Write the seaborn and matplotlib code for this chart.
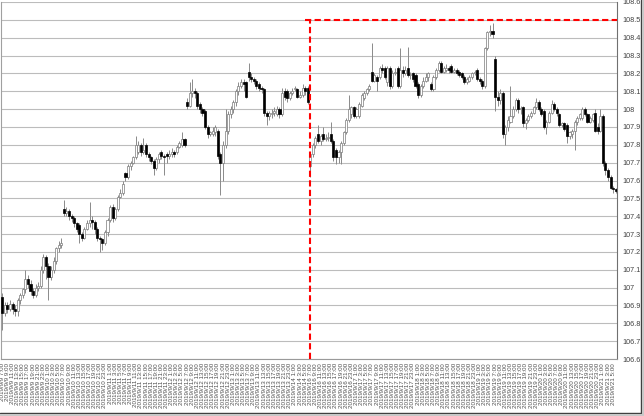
import numpy as np
import pandas as pd
import matplotlib
matplotlib.use("Agg")
import matplotlib.pyplot as plt
import seaborn as sns
from matplotlib.lines import Line2D

# hourly bars, two weeks split by the weekend
times = list(pd.date_range("2019-09-09 07:00", periods=120, freq="h")) + \
        list(pd.date_range("2019-09-16 07:00", periods=120, freq="h"))
time_labels = [f"{t.year}/{t.month}/{t.day} {t.hour}:00" for t in times]

opens = [
    106.95, 106.86, 106.90, 106.88, 106.91, 106.88, 106.87, 106.93, 106.96, 106.99,
    107.05, 107.02, 106.98, 106.96, 107.00, 107.01, 107.10, 107.17, 107.12, 107.06,
    107.10, 107.15, 107.22, 107.24, 107.44, 107.42, 107.43, 107.40, 107.39, 107.36,
    107.35, 107.30, 107.28, 107.33, 107.36, 107.38, 107.37, 107.33, 107.28, 107.27,
    107.25, 107.31, 107.38, 107.45, 107.39, 107.44, 107.51, 107.53, 107.64, 107.62,
    107.68, 107.70, 107.73, 107.76, 107.80, 107.76, 107.80, 107.75, 107.73, 107.71,
    107.67, 107.72, 107.76, 107.74, 107.75, 107.74, 107.75, 107.76, 107.76, 107.79,
    107.80, 107.83, 108.04, 108.02, 108.09, 108.10, 108.09, 108.03, 108.00, 107.99,
    107.90, 107.86, 107.86, 107.87, 107.88, 107.75, 107.70, 107.80, 107.88, 107.97,
    108.00, 108.04, 108.10, 108.13, 108.15, 108.15, 108.21, 108.18, 108.17, 108.16,
    108.14, 108.12, 108.11, 107.98, 107.96, 107.97, 107.98, 107.97, 108.00, 107.97,
    108.10, 108.10, 108.06, 108.09, 108.11, 108.11, 108.07, 108.08, 108.12, 108.12,
    107.68, 107.75, 107.80, 107.86, 107.82, 107.86, 107.83, 107.84, 107.86, 107.82,
    107.77, 107.73, 107.76, 107.81, 107.87, 107.94, 107.97, 108.01, 107.96, 107.96,
    108.02, 108.06, 108.09, 108.11, 108.21, 108.16, 108.18, 108.18, 108.23, 108.23,
    108.15, 108.23, 108.13, 108.20, 108.23, 108.13, 108.22, 108.20, 108.23, 108.19,
    108.20, 108.19, 108.14, 108.08, 108.13, 108.16, 108.18, 108.14, 108.11, 108.18,
    108.22, 108.26, 108.21, 108.22, 108.23, 108.24, 108.21, 108.22, 108.21, 108.20,
    108.18, 108.15, 108.16, 108.18, 108.20, 108.22, 108.17, 108.16, 108.13, 108.34,
    108.43, 108.44, 108.28, 108.07, 108.05, 108.09, 107.86, 107.90, 107.93, 107.96,
    108.00, 108.05, 108.00, 108.01, 107.92, 107.94, 107.96, 107.98, 108.01, 108.04,
    108.00, 107.99, 107.90, 107.93, 107.98, 108.03, 108.00, 107.97, 107.91, 107.92,
    107.91, 107.85, 107.86, 107.88, 107.93, 107.95, 107.95, 108.00, 107.97, 107.93,
    107.94, 107.98, 107.90, 107.88, 107.96, 107.70, 107.66, 107.62, 107.56, 107.55,
]
closes = [
    106.86, 106.90, 106.88, 106.91, 106.88, 106.87, 106.93, 106.96, 106.99, 107.05,
    107.02, 106.98, 106.96, 107.00, 107.01, 107.10, 107.17, 107.12, 107.06, 107.10,
    107.15, 107.22, 107.24, 107.25, 107.42, 107.43, 107.40, 107.39, 107.36, 107.33,
    107.30, 107.28, 107.33, 107.36, 107.38, 107.37, 107.33, 107.28, 107.27, 107.25,
    107.31, 107.38, 107.45, 107.39, 107.44, 107.51, 107.53, 107.58, 107.62, 107.68,
    107.70, 107.73, 107.80, 107.80, 107.76, 107.77, 107.75, 107.73, 107.71, 107.67,
    107.72, 107.75, 107.74, 107.73, 107.74, 107.75, 107.76, 107.75, 107.79, 107.81,
    107.83, 107.80, 108.02, 108.09, 108.10, 108.09, 108.02, 108.00, 107.98, 107.90,
    107.86, 107.87, 107.88, 107.90, 107.74, 107.70, 107.80, 107.88, 107.97, 108.00,
    108.04, 108.10, 108.13, 108.15, 108.14, 108.07, 108.18, 108.17, 108.16, 108.13,
    108.12, 108.11, 107.98, 107.96, 107.98, 107.98, 107.99, 108.00, 107.97, 108.09,
    108.07, 108.06, 108.09, 108.10, 108.12, 108.07, 108.08, 108.12, 108.10, 108.04,
    107.75, 107.80, 107.84, 107.82, 107.85, 107.83, 107.84, 107.84, 107.82, 107.73,
    107.73, 107.76, 107.81, 107.87, 107.94, 108.00, 108.01, 107.96, 108.00, 108.03,
    108.08, 108.09, 108.11, 108.13, 108.16, 108.19, 108.16, 108.23, 108.22, 108.18,
    108.23, 108.13, 108.20, 108.21, 108.13, 108.22, 108.20, 108.22, 108.19, 108.19,
    108.17, 108.13, 108.08, 108.13, 108.16, 108.18, 108.20, 108.11, 108.18, 108.22,
    108.26, 108.21, 108.23, 108.23, 108.22, 108.21, 108.22, 108.20, 108.19, 108.18,
    108.15, 108.17, 108.18, 108.20, 108.21, 108.17, 108.16, 108.13, 108.34, 108.43,
    108.44, 108.42, 108.07, 108.05, 108.09, 107.86, 107.90, 107.94, 107.96, 108.00,
    108.05, 108.00, 108.00, 107.92, 107.94, 107.96, 107.98, 108.01, 108.04, 108.00,
    107.97, 107.90, 107.93, 107.98, 108.03, 108.00, 107.98, 107.91, 107.92, 107.89,
    107.85, 107.87, 107.88, 107.93, 107.95, 107.97, 108.00, 107.97, 107.93, 107.95,
    107.97, 107.88, 107.88, 107.96, 107.70, 107.66, 107.62, 107.56, 107.55, 107.54,
]
highs = [
    106.97, 106.92, 106.92, 106.93, 106.92, 106.90, 106.94, 106.97, 107.00, 107.10,
    107.07, 107.04, 107.00, 107.02, 107.03, 107.12, 107.19, 107.18, 107.14, 107.12,
    107.17, 107.23, 107.26, 107.28, 107.49, 107.45, 107.44, 107.41, 107.40, 107.37,
    107.36, 107.31, 107.34, 107.38, 107.48, 107.40, 107.38, 107.34, 107.29, 107.28,
    107.32, 107.39, 107.46, 107.47, 107.45, 107.52, 107.55, 107.60, 107.65, 107.69,
    107.71, 107.74, 107.85, 107.82, 107.81, 107.84, 107.81, 107.76, 107.74, 107.72,
    107.73, 107.76, 107.77, 107.75, 107.76, 107.77, 107.78, 107.77, 107.80, 107.82,
    107.87, 107.84, 108.06, 108.15, 108.17, 108.12, 108.10, 108.04, 108.01, 108.00,
    107.91, 107.88, 107.90, 107.91, 107.89, 107.76, 107.82, 108.00, 107.99, 108.02,
    108.05, 108.11, 108.15, 108.17, 108.17, 108.16, 108.26, 108.20, 108.18, 108.17,
    108.15, 108.13, 108.12, 107.99, 107.99, 108.00, 108.01, 108.02, 108.01, 108.12,
    108.12, 108.11, 108.10, 108.12, 108.13, 108.12, 108.10, 108.14, 108.13, 108.13,
    107.76, 107.81, 107.85, 107.91, 107.86, 107.90, 107.86, 107.87, 107.93, 107.83,
    107.78, 107.77, 107.82, 107.88, 107.95, 108.08, 108.02, 108.02, 108.01, 108.04,
    108.09, 108.10, 108.12, 108.14, 108.37, 108.20, 108.19, 108.24, 108.25, 108.24,
    108.24, 108.24, 108.22, 108.23, 108.24, 108.34, 108.24, 108.24, 108.35, 108.21,
    108.21, 108.20, 108.15, 108.14, 108.18, 108.20, 108.21, 108.15, 108.19, 108.23,
    108.27, 108.27, 108.24, 108.25, 108.24, 108.25, 108.23, 108.23, 108.22, 108.21,
    108.19, 108.18, 108.19, 108.21, 108.22, 108.23, 108.18, 108.17, 108.35, 108.44,
    108.47, 108.48, 108.30, 108.10, 108.11, 108.10, 107.91, 107.96, 108.13, 108.02,
    108.06, 108.06, 108.02, 108.02, 107.95, 107.97, 107.99, 108.02, 108.06, 108.05,
    108.01, 108.00, 107.94, 107.99, 108.05, 108.04, 108.01, 107.98, 107.93, 107.93,
    107.92, 107.88, 107.89, 107.94, 107.96, 107.98, 108.01, 108.01, 107.98, 107.96,
    107.98, 108.00, 107.92, 108.00, 107.97, 107.71, 107.67, 107.63, 107.57, 107.56,
]
lows = [
    106.76, 106.84, 106.86, 106.87, 106.85, 106.84, 106.84, 106.91, 106.94, 106.97,
    107.00, 106.96, 106.94, 106.95, 106.98, 107.00, 107.08, 107.05, 106.93, 107.04,
    107.08, 107.13, 107.20, 107.22, 107.40, 107.40, 107.38, 107.37, 107.34, 107.31,
    107.25, 107.26, 107.27, 107.32, 107.34, 107.33, 107.30, 107.26, 107.20, 107.21,
    107.24, 107.29, 107.37, 107.37, 107.38, 107.43, 107.50, 107.52, 107.60, 107.61,
    107.66, 107.69, 107.72, 107.75, 107.74, 107.75, 107.73, 107.71, 107.69, 107.63,
    107.66, 107.70, 107.72, 107.63, 107.70, 107.72, 107.73, 107.73, 107.75, 107.78,
    107.79, 107.79, 108.00, 108.01, 108.07, 108.06, 108.00, 107.98, 107.96, 107.89,
    107.84, 107.85, 107.85, 107.85, 107.72, 107.52, 107.60, 107.78, 107.86, 107.95,
    107.98, 108.02, 108.08, 108.12, 108.10, 108.06, 108.16, 108.15, 108.14, 108.11,
    108.10, 108.09, 107.96, 107.91, 107.94, 107.95, 107.96, 107.96, 107.95, 107.96,
    108.05, 108.04, 108.05, 108.08, 108.10, 108.06, 108.06, 108.07, 108.08, 108.03,
    107.62, 107.73, 107.78, 107.81, 107.80, 107.82, 107.82, 107.82, 107.81, 107.71,
    107.69, 107.70, 107.69, 107.80, 107.86, 107.93, 107.95, 107.95, 107.95, 107.95,
    108.01, 108.05, 108.08, 108.10, 108.15, 108.15, 108.10, 108.17, 108.20, 108.17,
    108.13, 108.11, 108.12, 108.19, 108.12, 108.12, 108.18, 108.19, 108.18, 108.17,
    108.15, 108.12, 108.06, 108.07, 108.12, 108.15, 108.16, 108.10, 108.10, 108.17,
    108.21, 108.20, 108.20, 108.21, 108.20, 108.20, 108.20, 108.19, 108.18, 108.17,
    108.14, 108.14, 108.15, 108.17, 108.19, 108.16, 108.14, 108.11, 108.12, 108.33,
    108.41, 108.40, 107.99, 108.02, 108.03, 107.84, 107.80, 107.88, 107.92, 107.95,
    107.99, 107.98, 107.97, 107.90, 107.89, 107.93, 107.95, 107.97, 108.00, 107.99,
    107.96, 107.89, 107.86, 107.92, 107.97, 107.99, 107.96, 107.90, 107.90, 107.88,
    107.81, 107.83, 107.84, 107.77, 107.91, 107.94, 107.94, 107.96, 107.92, 107.92,
    107.93, 107.87, 107.86, 107.87, 107.68, 107.63, 107.60, 107.55, 107.53, 107.53,
]

# reference lines (red dashed)
mark_bar = 120
mark_level = 108.5

df = pd.DataFrame({"time": time_labels, "open": opens, "high": highs,
                   "low": lows, "close": closes})
df["pos"] = np.arange(len(df))
df["up"] = df["close"] >= df["open"]
df["bottom"] = df[["open", "close"]].min(axis=1)
df["body"] = (df["close"] - df["open"]).abs().clip(lower=0.004)

sns.set_theme(style="white")
plt.rcParams["font.family"] = ["Liberation Sans", "DejaVu Sans"]

fig = plt.figure(figsize=(6.44, 4.16), dpi=100)
ax = fig.add_axes([1 / 644, 57 / 416, 616 / 644, 357 / 416])

# wicks
ax.vlines(df["pos"], df["low"], df["high"], color="#8a8a8a", lw=0.7, zorder=2)
# bodies
up = df[df["up"]]
dn = df[~df["up"]]
ax.bar(up["pos"], up["body"], bottom=up["bottom"], width=0.8,
       color="white", edgecolor="#7a7a7a", linewidth=0.5, zorder=3)
ax.bar(dn["pos"], dn["body"], bottom=dn["bottom"], width=0.8,
       color="black", edgecolor="black", linewidth=0.5, zorder=3)

ax.vlines(mark_bar, 106.6, mark_level, color="#ff0000", lw=1.5,
          linestyles=(0, (3, 1.6)), zorder=4)
ax.hlines(mark_level, mark_bar - 2, len(df) - 0.5, color="#ff0000", lw=1.5,
          linestyles=(0, (3, 1.6)), zorder=4)

ax.set_xlim(-0.5, len(df) - 0.5)
ax.set_ylim(106.6, 108.6)
yt = np.round(np.arange(106.6, 108.61, 0.1), 1)
ax.set_yticks(yt)
ax.set_yticklabels([f"{v:g}" for v in yt], fontsize=5.2, color="#404040")
ax.yaxis.tick_right()
ax.yaxis.grid(True, color="#bcbcbc", lw=0.8)
ax.set_axisbelow(True)

ax.set_xticks(df["pos"][::2])
ax.set_xticklabels(df["time"][::2], rotation=90, fontsize=4.5, color="#505050")
ax.tick_params(axis="x", length=2, width=0.5, color="#9a9a9a", pad=1)
ax.tick_params(axis="y", length=0, pad=4)

ax.spines["top"].set_visible(False)
ax.spines["left"].set_color("#a0a0a0")
ax.spines["bottom"].set_color("#9a9a9a")
ax.spines["right"].set_color("#707070")
for s in ["left", "bottom", "right"]:
    ax.spines[s].set_linewidth(0.8)

# chart frame with soft shadow at right and bottom
fig.add_artist(Line2D([640.5 / 644, 640.5 / 644], [1, 3 / 416], transform=fig.transFigure,
                      color="#3a3a3a", lw=1.0))
fig.add_artist(Line2D([0, 640.5 / 644], [3 / 416, 3 / 416], transform=fig.transFigure,
                      color="#3a3a3a", lw=1.0))
fig.add_artist(Line2D([642.5 / 644, 642.5 / 644], [1, 1 / 416], transform=fig.transFigure,
                      color="#c8c8c8", lw=1.5))
fig.add_artist(Line2D([0, 642.5 / 644], [1 / 416, 1 / 416], transform=fig.transFigure,
                      color="#c8c8c8", lw=1.5))

fig.savefig("out.png", dpi=100)
